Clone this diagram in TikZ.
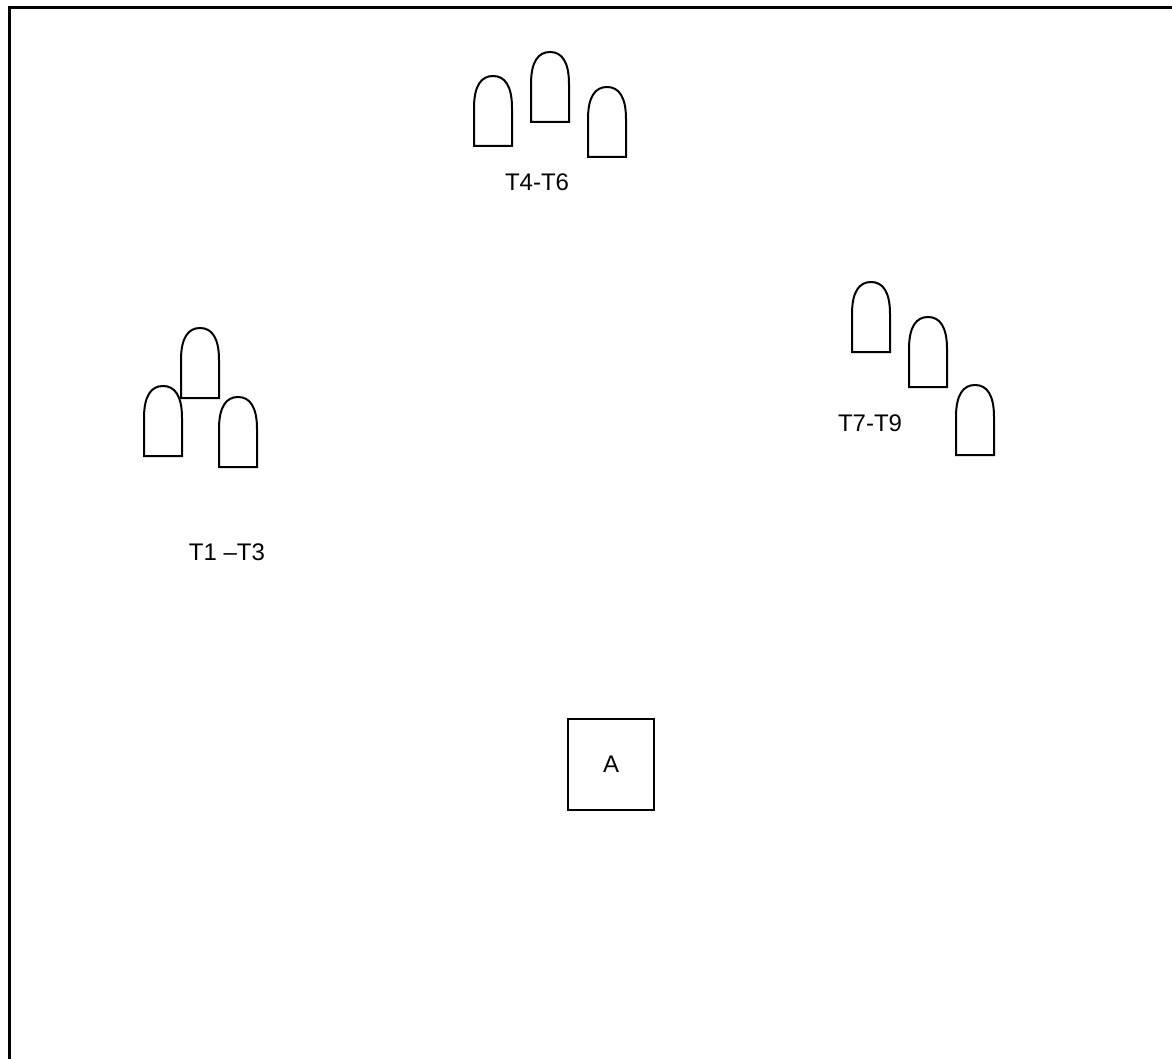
\documentclass[tikz,border=0pt]{standalone}
\usepackage{fontspec}
\setmainfont{Liberation Sans}
\begin{document}
\begin{tikzpicture}[
	x=0.5pt, y=-0.5pt,
	tomb/.pic={\draw[line width=1pt] (0,0) -- (0,-38) .. controls (0,-60) and (7,-70) .. (19,-70) .. controls (31,-70) and (38,-60) .. (38,-38) -- (38,0) -- cycle;},
	lbl/.style={font=\fontsize{12}{14}\selectfont, inner sep=0pt},
	station/.style={draw, line width=1pt, minimum width=43pt, minimum height=45.5pt, font=\fontsize{12}{14}\selectfont}
	]
	\useasboundingbox (0,0) rectangle (1172,1059);
	
	% Frame (top and left only)
	\draw[line width=1.5pt] (9.5,1059) -- (9.5,8) -- (1172,8);
	
	% Targets T1-T3
	\pic (t1) at (144,456) {tomb};
	\pic (t2) at (181,398) {tomb};
	\pic (t3) at (219,467) {tomb};
	\node[lbl] (l13) at (227,552) {T1 –T3};
	
	% Targets T4-T6
	\pic (t4) at (474,146) {tomb};
	\pic (t5) at (531,122) {tomb};
	\pic (t6) at (588,157) {tomb};
	\node[lbl] (l46) at (537,182) {T4-T6};
	
	% Targets T7-T9
	\pic (t7) at (852,352) {tomb};
	\pic (t8) at (909,387) {tomb};
	\pic (t9) at (956,455) {tomb};
	\node[lbl] (l79) at (870,423) {T7-T9};
	
	% Station A
	\node[station] (a) at (611,764.5) {A};
\end{tikzpicture}
\end{document}
